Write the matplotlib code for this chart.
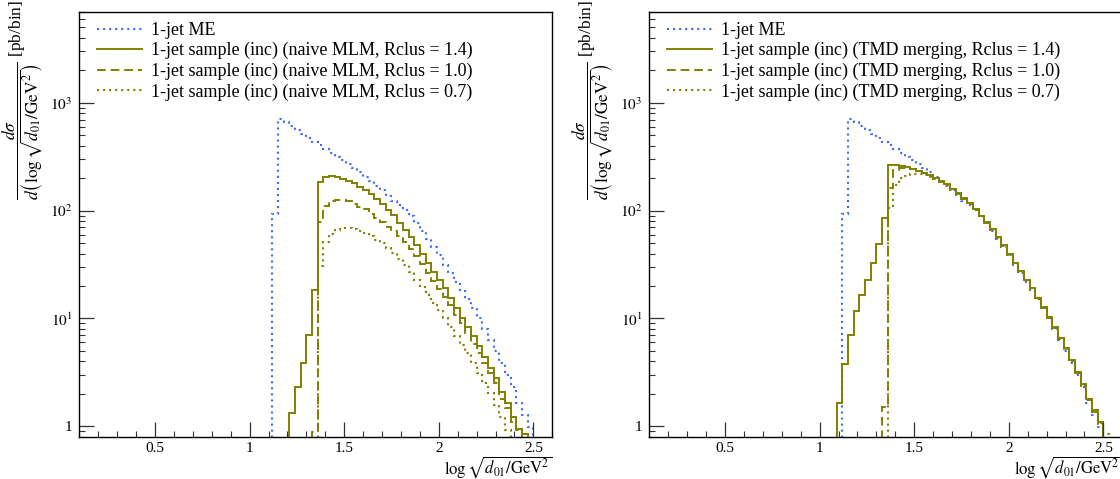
import numpy as np
import matplotlib
matplotlib.use('Agg')
import matplotlib.pyplot as plt
from matplotlib.lines import Line2D
from matplotlib.ticker import MultipleLocator, FixedLocator, FixedFormatter, FuncFormatter, LogLocator, NullFormatter

plt.rcParams['font.family'] = ['Liberation Serif', 'DejaVu Serif']
plt.rcParams['mathtext.fontset'] = 'stix'

# histogram binning (log sqrt(d01) in bins of 0.03)
BIN_W = 0.03

# 1-jet ME (same in both panels), first bin starts at 1.12
me_start = 1.12
me_vals = [93, 710, 660, 610, 560, 515, 470, 435, 405, 372, 342, 317, 292, 268,
           248, 227, 207, 190, 170, 154, 138, 124, 112, 101, 89, 76, 65, 54.4,
           45.6, 38.7, 31.3, 26.5, 21.9, 18.4, 15.0, 12.4, 10.0, 7.9, 6.3, 5.0,
           3.84, 2.99, 2.33, 1.65, 1.27, 0.99]

# naive MLM
mlm14_start = 1.21
mlm14_vals = [1.32, 2.33, 3.84, 7.03, 18.4, 184, 207, 210, 207, 197, 188, 180,
              165, 156, 142, 128, 115, 101, 91, 77, 66, 57, 48, 40, 32.5, 27.2,
              22.8, 19.1, 15.4, 12.4, 10.0, 8.4, 6.8, 5.5, 4.43, 3.45, 2.79, 2.1,
              1.63, 1.23, 0.95, 0.85]
mlm10_start = 1.33
mlm10_vals = [0.88, 79, 111, 123, 126, 126, 123, 115, 107, 103, 93, 86, 78, 71,
              65, 58, 51, 43.7, 37.6, 32, 26.5, 22.2, 18.8, 15.8, 13.2, 10.8, 9.0,
              7.4, 5.8, 4.75, 3.84, 3.1, 2.5, 1.8, 1.47, 1.1, 0.92, 0.75]
mlm07_start = 1.36
mlm07_vals = [30.9, 51.6, 60.4, 66.2, 68.7, 69.6, 68, 64.8, 61.7, 58.2, 53.5,
              49.8, 44.8, 40.3, 35.6, 31.3, 27.2, 22.8, 19.5, 16.5, 14.0, 12.0,
              10.0, 8.4, 6.8, 5.7, 4.75, 3.84, 3.1, 2.5, 2.02, 1.58, 1.23, 0.92,
              0.72]

# TMD merging
tmd14_start = 1.09
tmd14_vals = [1.63, 3.76, 7.0, 11.7, 16.5, 22.8, 32.5, 48.8, 86, 265, 264, 259,
              253, 243, 234, 224, 213, 200, 189, 175, 159, 145, 130, 117, 103,
              90, 78, 67, 57, 48, 40, 33, 27.5, 22.8, 19.0, 15.6, 12.8, 10.4,
              8.3, 6.6, 5.3, 4.1, 3.2, 2.45, 1.8, 1.4, 1.1]
tmd10_start = 1.33
tmd10_vals = [1.52, 161, 239, 248, 250, 241, 232, 222, 211, 198, 186, 174, 157,
              142, 128, 115, 101, 88, 77, 66, 55.5, 47, 39, 32.3, 27, 22.3, 18.6,
              15.2, 12.5, 10.1, 8.1, 6.4, 5.1, 4.0, 3.1, 2.35, 1.75, 1.35, 1.05]
tmd07_start = 1.36
tmd07_vals = [105, 173, 200, 211, 217, 218, 215, 207, 197, 185, 172, 158, 143,
              129, 116, 102, 89, 77.5, 66.5, 56, 47.5, 39.5, 32.8, 27.2, 22.6,
              18.8, 15.4, 12.6, 10.3, 8.2, 6.5, 5.2, 4.05, 3.15, 2.4, 1.8, 1.4,
              1.08, 0.85]

BLUE = '#3b6cf5'
OLIVE = '#808000'

ylabel = (r'$\dfrac{d\sigma}{d\left(\log\sqrt{d_{01}/\mathrm{GeV}^2}\right)}$'
          r' [pb/bin]')
xlabel = r'$\log\sqrt{d_{01}/\mathrm{GeV}^2}$'


def edges(start, vals):
    return start + BIN_W * np.arange(len(vals) + 1)


STYLES = [
    dict(color=BLUE, ls=(0, (1, 1.9)), lw=1.5),
    dict(color=OLIVE, ls='-', lw=1.4),
    dict(color=OLIVE, ls=(0, (4.5, 2.5)), lw=1.4),
    dict(color=OLIVE, ls=(0, (1, 1.9)), lw=1.5),
]


def draw_panel(ax, series, labels):
    handles = []
    for (start, vals), st, lab in zip(series, STYLES, labels):
        ax.stairs(vals, edges(start, vals), baseline=0.01, fill=False,
                  color=st['color'], linestyle=st['ls'], linewidth=st['lw'])
        handles.append(Line2D([], [], color=st['color'], linestyle=st['ls'],
                              linewidth=st['lw']))

    ax.set_yscale('log')
    ax.set_xlim(0.1, 2.6)
    ax.set_ylim(0.8, 7000)

    ax.xaxis.set_major_locator(MultipleLocator(0.5))
    ax.xaxis.set_minor_locator(MultipleLocator(0.1))
    ax.xaxis.set_major_formatter(FuncFormatter(lambda v, p: '%g' % v))
    ax.yaxis.set_major_locator(FixedLocator([1, 10, 100, 1000]))
    ax.yaxis.set_major_formatter(FixedFormatter(['1', '$10^1$', '$10^2$', '$10^3$']))
    ax.yaxis.set_minor_locator(LogLocator(base=10, subs=np.arange(2, 10)))
    ax.yaxis.set_minor_formatter(NullFormatter())

    ax.tick_params(which='both', direction='in', top=False, right=False,
                   labelsize=11, color='#333333')
    ax.tick_params(which='major', length=10.5, width=0.9)
    ax.tick_params(which='minor', length=4.3, width=0.8)
    ax.tick_params(axis='x', pad=4)
    ax.tick_params(axis='y', pad=5)
    for sp in ax.spines.values():
        sp.set_linewidth(1.0)

    ax.set_xlabel(xlabel, loc='right', fontsize=12, labelpad=-1)
    ax.set_ylabel(ylabel, loc='top', fontsize=12.5)
    ax.yaxis.set_label_coords(-0.07, 1.027)

    ax.legend(handles, labels, loc='upper left', frameon=False, fontsize=13,
              handlelength=2.5, handletextpad=0.45, labelspacing=0.18,
              borderaxespad=0, borderpad=0, bbox_to_anchor=(0.038, 0.976))


fig = plt.figure(figsize=(11.2, 4.79), dpi=100)
ax1 = fig.add_axes([79.3 / 1120, 1 - 436.7 / 479, 473 / 1120, 425 / 479])
ax2 = fig.add_axes([649.3 / 1120, 1 - 436.7 / 479, 473 / 1120, 425 / 479])

draw_panel(ax1,
           [(me_start, me_vals), (mlm14_start, mlm14_vals),
            (mlm10_start, mlm10_vals), (mlm07_start, mlm07_vals)],
           ['1-jet ME',
            '1-jet sample (inc) (naive MLM, Rclus = 1.4)',
            '1-jet sample (inc) (naive MLM, Rclus = 1.0)',
            '1-jet sample (inc) (naive MLM, Rclus = 0.7)'])
draw_panel(ax2,
           [(me_start, me_vals), (tmd14_start, tmd14_vals),
            (tmd10_start, tmd10_vals), (tmd07_start, tmd07_vals)],
           ['1-jet ME',
            '1-jet sample (inc) (TMD merging, Rclus = 1.4)',
            '1-jet sample (inc) (TMD merging, Rclus = 1.0)',
            '1-jet sample (inc) (TMD merging, Rclus = 0.7)'])

fig.savefig('out.png', dpi=100)
plt.close(fig)
